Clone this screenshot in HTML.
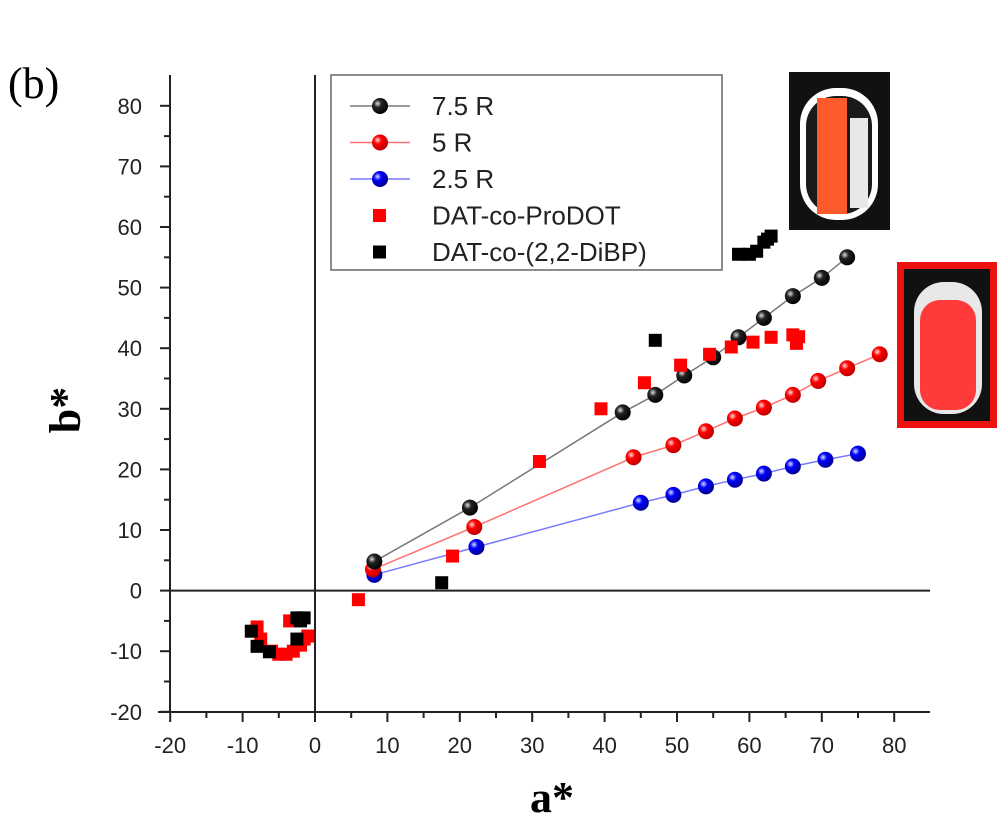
<!DOCTYPE html>
<html><head><meta charset="utf-8"><style>
body{margin:0;background:#fff;}
svg{display:block;font-family:"Liberation Sans",sans-serif;}
</style></head><body>
<svg width="1000" height="819" viewBox="0 0 1000 819">
<defs>
<radialGradient id="gk" cx="0.35" cy="0.35" r="0.7"><stop offset="0" stop-color="#ddd"/><stop offset="0.35" stop-color="#222"/><stop offset="1" stop-color="#000"/></radialGradient>
<radialGradient id="gr" cx="0.35" cy="0.35" r="0.7"><stop offset="0" stop-color="#fdd"/><stop offset="0.35" stop-color="#f00"/><stop offset="1" stop-color="#b00"/></radialGradient>
<radialGradient id="gb" cx="0.35" cy="0.35" r="0.7"><stop offset="0" stop-color="#ddf"/><stop offset="0.35" stop-color="#00f"/><stop offset="1" stop-color="#008"/></radialGradient>
</defs>
<text x="8" y="98" font-family="Liberation Serif,serif" font-size="44">(b)</text>
<g id="axes"></g>
<g id="marks"></g>
<text x="80" y="410" font-family="Liberation Serif,serif" font-size="44" font-weight="bold" transform="rotate(-90 80 410)" text-anchor="middle">b*</text>
<text x="552" y="812" font-family="Liberation Serif,serif" font-size="44" font-weight="bold" text-anchor="middle">a*</text>
<g>
<rect x="331" y="75" width="391" height="195" fill="#fff" stroke="#666" stroke-width="1.5"/>
<g id="legend"></g>
</g>
<g>
<rect x="789" y="72" width="101" height="158" fill="#111"/>
<rect x="800" y="88" width="78" height="132" rx="36" fill="#fff"/>
<rect x="806" y="96" width="66" height="118" rx="30" fill="#1a1a1a"/>
<rect x="817" y="98" width="30" height="116" fill="#ff5a2a"/>
<rect x="850" y="118" width="18" height="90" fill="#e8e8e8"/>
</g>
<g>
<rect x="897" y="262" width="100" height="166" fill="#ee1111"/>
<rect x="904" y="269" width="86" height="152" fill="#111"/>
<rect x="914" y="282" width="68" height="132" rx="30" fill="#e8e8e8"/>
<rect x="920" y="300" width="56" height="110" rx="20" fill="#ff3a3a"/>
</g>
</svg>
<script>
const xTicks=[-20,-10,0,10,20,30,40,50,60,70,80];
const yTicks=[-20,-10,0,10,20,30,40,50,60,70,80];
const r75A=[8.2,21.4,42.5,47,51,55,58.5,62,66,70,73.5];
const r75B=[4.8,13.7,29.4,32.3,35.5,38.5,41.8,45,48.6,51.6,55];
const r5A=[8,22,44,49.5,54,58,62,66,69.5,73.5,78];
const r5B=[3.5,10.5,22,24,26.3,28.4,30.2,32.3,34.6,36.7,39];
const r25A=[8.2,22.3,45,49.5,54,58,62,66,70.5,75];
const r25B=[2.6,7.2,14.5,15.8,17.2,18.3,19.3,20.5,21.6,22.6];
const prodotA=[6,19,31,39.5,45.5,50.5,54.5,57.5,60.5,63,66,66.8,66.5,-8,-7.5,-6,-5,-4,-3,-2,-1.5,-1,-3.5];
const prodotB=[-1.5,5.7,21.3,30,34.3,37.2,39,40.2,41,41.8,42.2,41.9,40.8,-6,-8,-10,-10.5,-10.5,-10,-9,-8,-7.5,-5];
const dibpA=[17.5,47,58.5,60,61,62,62.5,63,-8.8,-8,-6.3,-2.5,-2,-1.5,-2.5];
const dibpB=[1.3,41.3,55.5,55.5,56,57.5,58,58.5,-6.7,-9.2,-10.1,-8,-5,-4.5,-4.5];
const X=v=>315+v*7.24, Y=v=>590.6-v*6.06;
const NS='http://www.w3.org/2000/svg';
function mk(t,a,p){const e=document.createElementNS(NS,t);for(const k in a)e.setAttribute(k,a[k]);p.appendChild(e);return e;}
const ax=document.getElementById('axes'), mg=document.getElementById('marks'), lg=document.getElementById('legend');
let e;
e=mk('line',{x1:170,y1:75,x2:170,y2:712,stroke:'#222','stroke-width':2},ax);

e=mk('line',{x1:158,y1:712,x2:930,y2:712,stroke:'#222','stroke-width':2},ax);

e=mk('line',{x1:X(0),y1:75,x2:X(0),y2:712,stroke:'#222','stroke-width':2},ax);

e=mk('line',{x1:170,y1:Y(0),x2:930,y2:Y(0),stroke:'#222','stroke-width':2},ax);

xTicks.forEach((v,i)=>{mk('line',{x1:X(v),y1:712,x2:X(v),y2:722,stroke:'#222','stroke-width':2},ax);
 if(i<xTicks.length-1)mk('line',{x1:X(v+5),y1:712,x2:X(v+5),y2:718,stroke:'#222','stroke-width':2},ax);
 e=mk('text',{x:X(v),y:753,'text-anchor':'middle','font-size':22,fill:'#222'},ax);e.textContent=v;
 });
yTicks.forEach((v,i)=>{mk('line',{x1:160,y1:Y(v),x2:170,y2:Y(v),stroke:'#222','stroke-width':2},ax);
 if(i<yTicks.length-1)mk('line',{x1:164,y1:Y(v+5),x2:170,y2:Y(v+5),stroke:'#222','stroke-width':2},ax);
 e=mk('text',{x:142,y:Y(v)+8,'text-anchor':'end','font-size':22,fill:'#222'},ax);e.textContent=v;
 });
function series(A,B,lc,g,name){
 const g0=mk('g',{},mg);
 mk('polyline',{points:A.map((a,i)=>X(a)+','+Y(B[i])).join(' '),fill:'none',stroke:lc,'stroke-width':1.5},g0);
 A.forEach((a,i)=>{const c=mk('circle',{cx:X(a),cy:Y(B[i]),r:8,fill:'url(#'+g+')'},g0);
  });}
function squares(A,B,col,name){
 const g0=mk('g',{},mg);
 A.forEach((a,i)=>{const s=mk('rect',{x:X(a)-6.5,y:Y(B[i])-6.5,width:13,height:13,fill:col},g0);
  });}
series(r25A,r25B,'#7a7aff','gb','series-2-5r');
series(r5A,r5B,'#ff7070','gr','series-5r');
series(r75A,r75B,'#777','gk','series-7-5r');
squares(prodotA,prodotB,'#f00','series-prodot');
squares(dibpA,dibpB,'#000','series-dibp');
const L=[['7.5 R','c','#777','gk'],['5 R','c','#ff7070','gr'],['2.5 R','c','#7a7aff','gb'],['DAT-co-ProDOT','s','#f00'],['DAT-co-(2,2-DiBP)','s','#000']];
L.forEach((l,i)=>{const y=106+i*36.5;const g0=mk('g',{},lg);
 
 if(l[1]=='c'){mk('line',{x1:350,y1:y,x2:410,y2:y,stroke:l[2],'stroke-width':1.5},g0);mk('circle',{cx:380,cy:y,r:8,fill:'url(#'+l[3]+')'},g0);}
 else mk('rect',{x:373,y:y-6.5,width:13,height:13,fill:l[2]},g0);
 const t=mk('text',{x:432,y:y+9,'font-size':26,fill:'#222'},g0);t.textContent=l[0];});
</script>
</body></html>
